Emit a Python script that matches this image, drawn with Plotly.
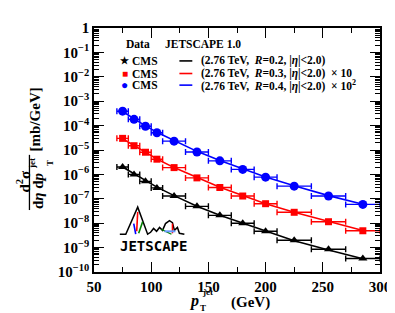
import plotly.graph_objects as go

# ---------------- data ----------------
bin_lo = [70, 80, 90, 100, 110, 130, 150, 170, 190, 210, 240, 270]
bin_hi = [80, 90, 100, 110, 130, 150, 170, 190, 210, 240, 270, 300]
pt = [75, 85, 95, 105, 120, 140, 160, 180, 200, 225, 255, 285]

cms_r02 = [2.0e-6, 1.0e-6, 5.2e-7, 2.8e-7, 1.3e-7, 4.9e-8, 2.1e-8, 1.0e-8, 4.7e-9, 2.0e-9, 8.5e-10, 3.6e-10]
cms_r03 = [3.0e-5, 1.5e-5, 8.1e-6, 4.2e-6, 1.9e-6, 7.2e-7, 2.9e-7, 1.3e-7, 6.3e-8, 2.8e-8, 1.15e-8, 4.9e-9]
cms_r04 = [3.9e-4, 1.8e-4, 9.4e-5, 5.1e-5, 2.3e-5, 8.3e-6, 3.6e-6, 1.6e-6, 7.7e-7, 3.3e-7, 1.3e-7, 5.9e-8]

js_r02 = [2.0e-6, 1.05e-6, 5.5e-7, 3.0e-7, 1.35e-7, 5.0e-8, 2.1e-8, 9.8e-9, 4.6e-9, 1.9e-9, 8.0e-10, 3.5e-10]
js_r03 = [2.9e-5, 1.5e-5, 8.0e-6, 4.3e-6, 1.9e-6, 7.3e-7, 3.0e-7, 1.35e-7, 6.3e-8, 2.8e-8, 1.15e-8, 5.0e-9]
js_r04 = [3.8e-4, 1.9e-4, 9.8e-5, 5.3e-5, 2.4e-5, 8.8e-6, 3.7e-6, 1.65e-6, 7.8e-7, 3.4e-7, 1.35e-7, 6.0e-8]

ytick_vals = [10.0 ** -k for k in range(0, 11)]
ytick_text = ["1"] + ["10<sup>\u2212%d</sup>" % k for k in range(1, 11)]
xtick_vals = [50, 100, 150, 200, 250, 300]

# ---------------- figure ----------------
W, H = 395, 313
L, R, T, B = 86, 21, 12, 49
PW, PH = W - L - R, H - T - B

def px(x):
    return (x - L) / PW

def py(y):
    return (H - B - y) / PH

SERIF = "Liberation Serif"
fig = go.Figure()

ex_plus = [h - c for h, c in zip(bin_hi, pt)]
ex_minus = [c - l for c, l in zip(pt, bin_lo)]

series = [
    (js_r02, cms_r02, "black", "triangle-up", 8),
    (js_r03, cms_r03, "red", "square", 7),
    (js_r04, cms_r04, "blue", "circle", 9),
]
for js, cms, col, sym, sz in series:
    fig.add_trace(go.Scatter(x=pt, y=js, mode="lines",
                             line=dict(color=col, width=1.6), showlegend=False))
    fig.add_trace(go.Scatter(
        x=pt, y=cms, mode="markers",
        marker=dict(color=col, symbol=sym, size=sz),
        error_x=dict(type="data", symmetric=False, array=ex_plus, arrayminus=ex_minus,
                     color=col, thickness=1.4, width=3),
        showlegend=False, cliponaxis=True))

axis_common = dict(
    showline=True, linecolor="black", linewidth=1.6, mirror="allticks",
    ticks="inside", tickcolor="black", tickwidth=1.4, ticklen=10,
    showgrid=False, zeroline=False,
    tickfont=dict(family=SERIF, size=15, color="black", weight="bold"),
)

minor_y = [m * 10.0 ** e for e in range(-10, 0) for m in range(2, 10)]

fig.update_xaxes(range=[50, 300], tickmode="array", tickvals=xtick_vals,
                 minor=dict(tickmode="array", tickvals=[75, 125, 175, 225, 275],
                            ticks="inside", ticklen=5, tickwidth=1.2, tickcolor="black"),
                 **axis_common)
fig.update_yaxes(type="log", range=[-10, 0], tickmode="array",
                 tickvals=ytick_vals, ticktext=ytick_text,
                 minor=dict(tickmode="array", tickvals=minor_y,
                            ticks="inside", ticklen=5, tickwidth=1.2, tickcolor="black"),
                 **axis_common)

ann = []

def txt(x, y, s, size=11, angle=0, xanchor="center", family=SERIF, color="black", weight="bold"):
    ann.append(dict(x=px(x), y=py(y), xref="paper", yref="paper", text=s, showarrow=False,
                    xanchor=xanchor, yanchor="middle", textangle=angle, borderpad=0,
                    font=dict(family=family, size=size, color=color, weight=weight)))

# legend text
txt(130, 29, "Data", 11.5)
txt(196, 29, "JETSCAPE 1.0", 11.5)
txt(117, 46, "\u2605", 10)
txt(117, 59, "\u25A0", 10, color="red")
txt(117, 71, "\u25CF", 12, color="blue")
for yy in (46, 59, 71):
    txt(123, yy, "CMS", 11.5, xanchor="left")
lab = ["(2.76 TeV,  <i>R</i>=0.2, |<i>\u03b7</i>|&lt;2.0)",
       "(2.76 TeV,  <i>R</i>=0.3, |<i>\u03b7</i>|&lt;2.0)  \u00d7 10",
       "(2.76 TeV,  <i>R</i>=0.4, |<i>\u03b7</i>|&lt;2.0)  \u00d7 10<sup>2</sup>"]
cols = ["black", "red", "blue"]
shapes = []
for yy, s, c in zip((46, 59, 71), lab, cols):
    txt(193, yy, s, 11.5, xanchor="left")
    shapes.append(dict(type="line", xref="paper", yref="paper",
                       x0=px(172), x1=px(185), y0=py(yy), y1=py(yy),
                       line=dict(color=c, width=1.6)))

# x-axis title
txt(187, 294, "<i>p</i>", 16)
txt(200, 285, "jet", 9)
txt(196, 301, "T", 9)
txt(244, 295, "(GeV)", 15)

# y-axis title
txt(15, 170, "d<sup>2</sup>\u03c3", 15, angle=-90)
shapes.append(dict(type="line", xref="paper", yref="paper",
                   x0=px(21), x1=px(21), y0=py(143), y1=py(200),
                   line=dict(color="black", width=1.3)))
txt(29, 180, "d<i>\u03b7</i> d<i>p</i>", 15, angle=-90)
txt(23, 152, "jet", 9, angle=-90)
txt(41, 151, "T", 9, angle=-90)
txt(27, 106, "[mb/GeV]", 15, angle=-90)

# JETSCAPE logo (decorative)
def seg(pts, color="black", width=1.3):
    d = "M " + " L ".join("%.4f %.4f" % (px(a), py(b)) for a, b in pts)
    shapes.append(dict(type="path", xref="paper", yref="paper", path=d,
                       line=dict(color=color, width=width)))

seg([(112, 225), (118, 225), (130, 197), (140, 225), (143, 223), (146, 219),
     (149, 222), (152, 218), (155, 221), (158, 214), (162, 211), (165, 213),
     (167, 221), (170, 218), (172, 224), (177, 225)], width=1.5)
seg([(130, 202), (129, 222)], "red", 1.6)
seg([(131, 224), (135, 212)], "green", 1.6)
seg([(126, 214), (128, 225)], "blue", 1.6)
seg([(165, 214), (165, 224)], "red", 1.5)
seg([(154, 220), (164, 225)], "green", 1.3)
seg([(157, 222), (168, 222)], "#6699ff", 2.0)
txt(146, 237, "JETSCAPE", 14, family="DejaVu Sans Mono")

fig.update_layout(
    width=W, height=H, margin=dict(l=L, r=R, t=T, b=B),
    paper_bgcolor="white", plot_bgcolor="white",
    annotations=ann, shapes=shapes, showlegend=False,
)

fig.write_html("out.html")
